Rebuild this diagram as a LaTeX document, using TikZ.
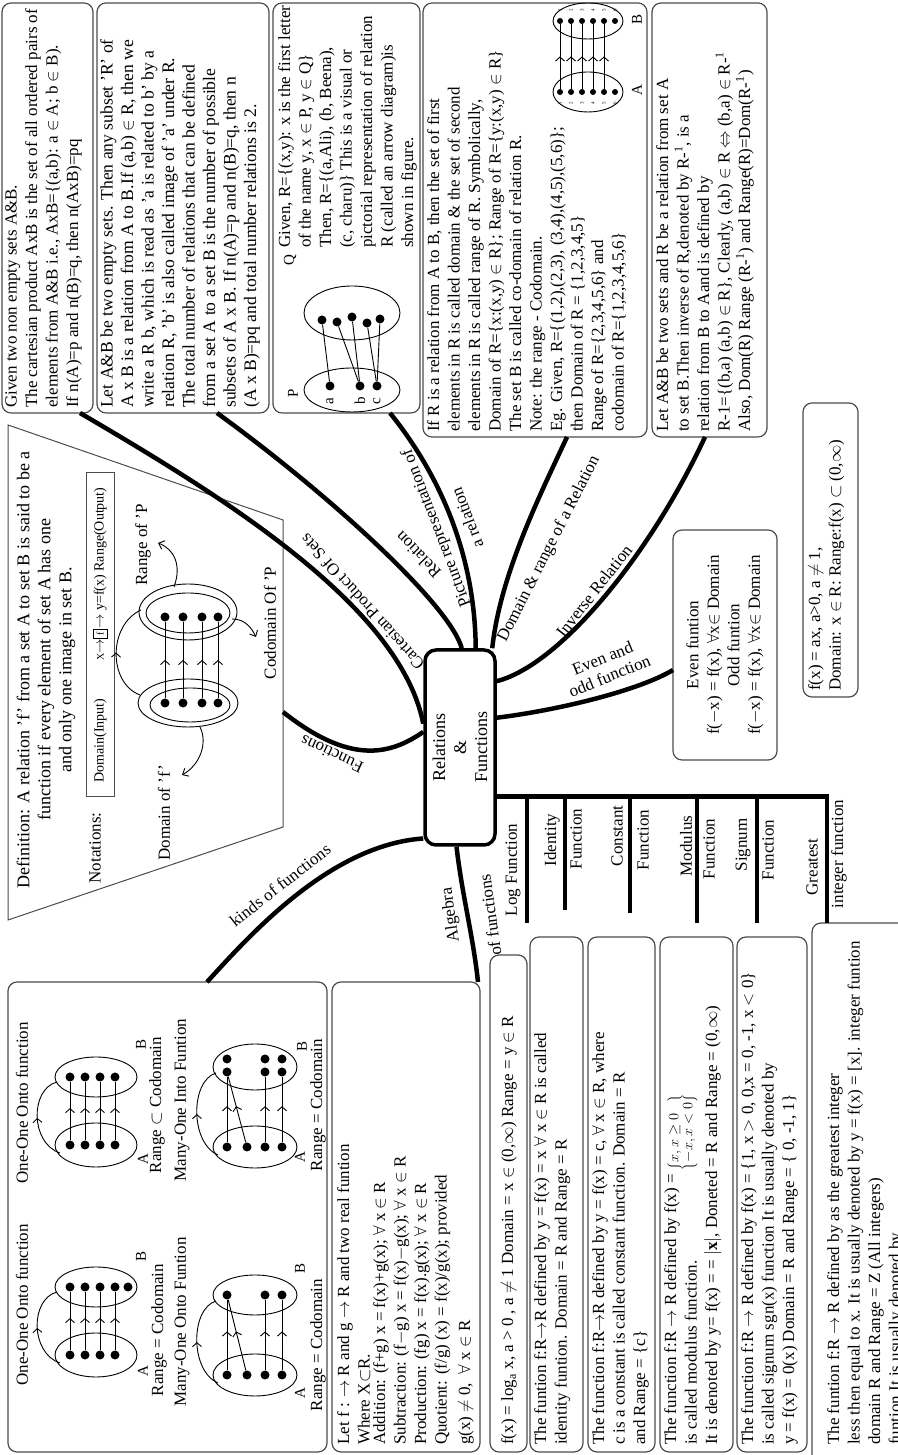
\documentclass[tikz,border=0pt]{standalone}
\usepackage{fontspec}
\setmainfont{Liberation Serif}
\usetikzlibrary{arrows.meta,decorations.markings}
\begin{document}
\begin{tikzpicture}[x=1pt,y=1pt,
  bx/.style={draw=black!70, line width=1.2pt, rounded corners=9pt, anchor=north west, inner sep=0pt, outer sep=0pt},
  txt/.style={font=\fontsize{17}{20.5}\selectfont, inner sep=0pt, align=left, anchor=north west},
  lbl/.style={font=\fontsize{17}{19}\selectfont, inner sep=1pt},
  sml/.style={font=\fontsize{15}{16}\selectfont, inner sep=0pt},
  tinyl/.style={font=\fontsize{5}{5}\selectfont, inner sep=0pt},
  br/.style={line width=4.5pt},
  dot/.style={circle, fill=black, inner sep=0pt, minimum size=#1},
  dot/.default=9pt,
  thinl/.style={line width=0.9pt},
  marr/.style={postaction={decorate}, decoration={markings, mark=at position #1 with {\arrow{Straight Barb[length=4pt,width=9pt]}}}},
  marr/.default=0.55,
  tip/.style={-{Straight Barb[length=5pt,width=9pt]}},
]
\begin{scope}[rotate=90, transform shape, y=-1pt]
\useasboundingbox (0,0) rectangle (1455,897);
\fill[white] (0,0) rectangle (1455,897);

% ---------- boxes
\node[bx, minimum width=410pt, minimum height=91pt]  (b1) at (1042,2) {};
\node[bx, minimum width=410pt, minimum height=172pt] (b2) at (1042,97) {};
\node[bx, minimum width=410pt, minimum height=147pt] (b3) at (1042,273) {};
\node[bx, minimum width=434pt, minimum height=224pt] (b4) at (1018,423) {};
\node[bx, minimum width=434pt, minimum height=115pt] (b5) at (1018,652) {};
\node[bx, minimum width=294pt, minimum height=55pt]  (b6) at (758,803) {};
\node[bx, minimum width=230pt, minimum height=104pt] (b7) at (695,673) {};
\node[bx, minimum width=470pt, minimum height=319pt] (b8) at (3,8) {};
\node[bx, minimum width=470pt, minimum height=148pt] (b9) at (3,332) {};
\node[bx, minimum width=497pt, minimum height=37pt]  (b10) at (3,490) {};
\node[bx, minimum width=515pt, minimum height=53pt]  (b11) at (3,530) {};
\node[bx, minimum width=515pt, minimum height=67pt]  (b12) at (3,588) {};
\node[bx, minimum width=515pt, minimum height=73pt]  (b13) at (3,660) {};
\node[bx, minimum width=515pt, minimum height=70pt]  (b14) at (3,737) {};
\node[bx, minimum width=552pt, minimum height=110pt] (b15) at (-20,812) {};

% ---------- texts of the boxes
\node[txt] (t1) at (1047,5) {Given two non empty sets A\&B.\\
The cartesian product AxB is the set of all ordered pairs of\\
elements from A\&B i.e., AxB=\{(a,b): a $\in$ A; b $\in$ B).\\
If n(A)=p and n(B)=q, then n(AxB)=pq};

\node[txt, font=\fontsize{17.6}{20.5}\selectfont] (t2) at (1047,100) {Let A\&B be two empty sets. Then any subset 'R' of\\
A x B is a relation from A to B.If (a,b) $\in$ R, then we\\
write a R b, which is read as 'a is related to b' by a\\
relation R, 'b' is also called image of 'a' under R.\\
The total number of relations that can be defined\\
from a set A to a set B is the number of possible\\
subsets of A x B. If n(A)=p and n(B)=q, then n\\
(A x B)=pq and total number relations is 2.};

\node[txt] (t3) at (1207,278) {Given, R=\{(x,y): x is the first letter\\
of the name y, x $\in$ P, y $\in$ Q\}\\
Then, R=\{(a,Ali), (b, Beena),\\
(c, charu)\} This is a visual or\\
pictorial representation of relation\\
R (called an arrow diagram)is\\
shown in figure.};

\node[txt] (t4) at (1023,427) {If R is a relation from A to B, then the set of first\\
elements in R is called domain \& the set of second\\
elements in R is called range of R. Symbolically,\\
Domain of R=\{x:(x,y) $\in$ R\}; Range of R=\{y:(x,y) $\in$ R\}\\
The set B is called co-domain of relation R.\\
Note: the range - Codomain.\\
Eg. Given, R=\{(1,2),(2,3), (3,4),(4,5),(5,6)\};\\
then Domain of R = \{1,2,3,4,5\}\\
Range of R=\{2,3,4,5,6\} and\\
codomain of R=\{1,2,3,4,5,6\}};

\node[txt] (t5) at (1023,656) {Let A\&B be two sets and R be a relation from set A\\
to set B.Then inverse of R,denoted by R-\textsuperscript{1}, is a\\
relation from B to Aand is defined by\\
R-1=\{(b,a) (a,b) $\in$ R\}, Clearly, (a,b) $\in$ R $\Leftrightarrow$ (b,a) $\in$ R-\textsuperscript{1}\\
Also, Dom(R) Range (R-\textsuperscript{1}) and Range(R)=Dom(R-\textsuperscript{1})};

\node[txt] (t6) at (764,808) {f(x) = ax, a>0, a $\neq$ 1,\\
Domain: x $\in$ R: Range:f(x) $\subset$ (0,$\infty$)};

\node[txt, align=center, anchor=center] (t7) at (810,725) {Even funtion\\
f($-$x) = f(x), $\forall$x$\in$ Domain\\
Odd funtion\\
f($-$x) = f(x), $\forall$x$\in$ Domain};

\node[txt] (t9) at (10,337) {Let f : $\rightarrow$ R and g $\rightarrow$ R and two real funtion\\
Where X$\subset$R.\\[-5pt]
Addition: (f+g) x = f(x)+g(x); $\forall$ x $\in$ R\\
Subtraction: (f$-$g) x = f(x)$-$g(x); $\forall$ x $\in$ R\\
Production: (fg) x = f(x).g(x); $\forall$ x $\in$ R\\
Quotient: (f/g) (x) = f(x)/g(x); provided\\[3pt]
g(x) $\neq$ 0, \ $\forall$ x $\in$ R};

\node[txt, anchor=west] (t10) at (10,509) {f(x) = log\textsubscript{a} x, a > 0 , a $\neq$ 1 Domain = x $\in$ (0,$\infty$) Range = y $\in$ R};

\node[txt] (t11) at (10,534) {The funtion f:R$\rightarrow$R defined by y = f(x) = x $\forall$ x $\in$ R is called\\
identity funtion. Domain = R and Range = R};

\node[txt] (t12) at (10,592) {The function f:R$\rightarrow$R defined by y = f(x) = c, $\forall$ x $\in$ R, where\\
c is a constant is called constant function. Domain = R\\
and Range = \{c\}};

\node[txt] (t13) at (10,664) {The function f:R $\rightarrow$ R defined by f(x) = \smash{\raisebox{-10pt}{\fontsize{14}{14}\selectfont$\left\{\begin{array}{@{}l@{}}x,x\geq 0\\ -x,x<0\end{array}\right\}$}}\\
is called modulus function.\\
It is denoted by y= f(x) = = $|\mathbf{x}|$, Doneted = R and Range = (0,$\infty$)};

\node[txt] (t14) at (10,741) {The function f:R $\rightarrow$ R defined by f(x) = \{1, x $>$ 0, 0,x = 0, -1, x $<$ 0\}\\
is called signum sgn(x) function It is usually denoted by\\
y = f(x) = 0(x) Domain = R and Range = \{ 0, -1, 1\}};

\node[txt] (t15) at (10,827) {The funtion f:R $\rightarrow$ R defined by as the greatest integer\\
less then equal to x. It is usually denoted by y = f(x) = [x]. integer funtion\\
domain R and Range = Z (All integers)\\
funtion It is usually denoted by};

% ---------- P / Q arrow diagram (box 3)
\draw[thinl] (1065,352) ellipse [x radius=22pt, y radius=48pt];
\draw[thinl] (1142,352) ellipse [x radius=27pt, y radius=48pt];
\node[sml] (pP) at (1062,293) {P};
\node[sml] (pQ) at (1195,290) {Q};
\node[dot] (pa) at (1069,330) {};
\node[dot] (pb) at (1069,360) {};
\node[dot] (pc) at (1069,377) {};
\node[sml] (la) at (1054,330) {a};
\node[sml] (lb) at (1054,360) {b};
\node[sml] (lc) at (1054,377) {c};
\node[dot] (q1) at (1135,322) {};
\node[dot] (q2) at (1133,337) {};
\node[dot] (q3) at (1138,352) {};
\node[dot] (q4) at (1132,367) {};
\node[dot] (q5) at (1136,380) {};
\draw[thinl] (pa) -- (q1);
\draw[thinl] (pb) -- (q2);
\draw[thinl] (pb) -- (q3);
\draw[thinl] (pc) -- (q4);
\draw[thinl] (pc) -- (q5);

% ---------- A / B diagram (box 4)
\draw[thinl] (1363,588) ellipse [x radius=20pt, y radius=35pt];
\draw[thinl] (1434,588) ellipse [x radius=18pt, y radius=35pt];
\foreach \i/\t in {1/560,2/571,3/582,4/593,5/604,6/615}{
  \node[dot=6pt] (ra\i) at (1363,\t) {};
  \node[dot=6pt] (rb\i) at (1434,\t) {};
  \node[tinyl] (rna\i) at (1352,\t) {\i};
  \node[tinyl] (rnb\i) at (1445,\t) {\i};
}
\foreach \i in {1,...,5}{\draw[thinl, marr=0.5] (ra\i) -- (rb\i);}
\node[sml] (rA) at (1365,637) {A};
\node[sml] (rB) at (1435,637) {B};

% ---------- definition of function (trapezoid)
\draw[draw=black!70, line width=1pt] (535,8) -- (1030,8) -- (935,283) -- (628,283) -- cycle;
\node[lbl, align=center, font=\fontsize{18}{21}\selectfont] (def) at (785,46) {Definition: A relation 'f' from a set A to set B is said to be a\\
function if every element of set A has one\\
and only one image in set B.};
\node[lbl] (nota) at (607,95) {Notations:};
\node[draw=black!70, line width=1pt, minimum width=324pt, minimum height=28pt, inner sep=0pt, font=\fontsize{14}{14}\selectfont] (nbox) at (820,100)
  {Domain(Input)\hspace{38pt}{\fontsize{10}{10}\selectfont X}$\to$\fbox{\fontsize{10}{10}\selectfont f}$\to$ y=f(x) Range(Output)};

\draw[thinl] (752,188) ellipse [x radius=24pt, y radius=50pt];
\draw[thinl] (750,190) ellipse [x radius=17pt, y radius=40pt];
\draw[thinl] (843,188) ellipse [x radius=28pt, y radius=49pt];
\draw[thinl] (842,188) ellipse [x radius=20pt, y radius=42pt];
\foreach \i/\t in {1/165,2/183,3/202,4/218}{
  \node[dot] (fa\i) at (752,\t) {};
  \node[dot] (fb\i) at (838,\t) {};
  \draw[thinl, marr=0.5] (fa\i) -- (fb\i);
}
\draw[thinl, marr=0.5] (760,140) .. controls (772,108) and (830,108) .. (845,141);
\node[lbl] (rngP) at (910,143) {Range of 'P};
\draw[thinl, tip] (868,174) .. controls (890,182) and (906,174) .. (912,158);
\node[lbl] (domf) at (642,164) {Domain of 'f'};
\draw[thinl, tip] (728,200) .. controls (712,208) and (690,200) .. (680,182);
\node[lbl] (codP) at (832,270) {Codomain Of 'P};
\draw[thinl, tip] (836,232) .. controls (836,246) and (826,252) .. (818,256);

% ---------- kinds of functions diagrams
\node[lbl] (k1t) at (150,22) {One-One Onto function};
\node[lbl] (k2t) at (352,22) {One-One Onto function};
% D1
\draw[thinl] (100,96) ellipse [x radius=22pt, y radius=41pt];
\draw[thinl] (168,96) ellipse [x radius=20pt, y radius=41pt];
\foreach \i/\t in {1/70,2/85,3/100,4/115}{\node[dot] (d1a\i) at (100,\t) {};}
\foreach \i/\t in {1/70,2/85,3/100,4/115,5/128}{\node[dot] (d1b\i) at (168,\t) {};}
\foreach \i in {1,...,4}{\draw[thinl, marr] (d1a\i) -- (d1b\i);}
\draw[thinl, marr=0.5] (92,60) .. controls (102,30) and (156,30) .. (163,57);
\node[sml] (d1A) at (84,143) {A};
\node[sml] (d1B) at (198,141) {B};
\node[lbl] (d1r) at (125,159) {Range = Codomain};
\node[lbl] (d1m) at (133,182) {Many-One Onto Funtion};
% D2
\draw[thinl] (310,96) ellipse [x radius=22pt, y radius=41pt];
\draw[thinl] (378,96) ellipse [x radius=20pt, y radius=41pt];
\foreach \i/\t in {1/70,2/85,3/100,4/115}{\node[dot] (d2a\i) at (310,\t) {}; \node[dot] (d2b\i) at (378,\t) {};}
\foreach \i in {1,...,4}{\draw[thinl, marr] (d2a\i) -- (d2b\i);}
\draw[thinl, marr=0.5] (302,60) .. controls (312,30) and (366,30) .. (373,57);
\node[sml] (d2A) at (296,143) {A};
\node[sml] (d2B) at (410,141) {B};
\node[lbl] (d2r) at (350,157) {Range $\subset$ Codomain};
\node[lbl] (d2m) at (355,182) {Many-One Into Funtion};
% D3
\draw[thinl] (80,255) ellipse [x radius=21pt, y radius=42pt];
\draw[thinl] (160,255) ellipse [x radius=20pt, y radius=42pt];
\foreach \i/\t in {1/227,2/247,3/265,4/282}{\node[dot] (d3a\i) at (80,\t) {};}
\foreach \i/\t in {1/227,2/265,3/282}{\node[dot] (d3b\i) at (160,\t) {};}
\draw[thinl, marr] (d3a1) -- (d3b1);
\draw[thinl, marr] (d3a2) -- (d3b1);
\draw[thinl, marr] (d3a3) -- (d3b2);
\draw[thinl, marr] (d3a4) -- (d3b3);
\draw[thinl, marr=0.5] (72,218) .. controls (84,190) and (146,190) .. (154,216);
\node[sml] (d3A) at (62,300) {A};
\node[sml] (d3B) at (186,300) {B};
\node[lbl] (d3r) at (110,318) {Range = Codomain};
% D4
\draw[thinl] (308,255) ellipse [x radius=21pt, y radius=42pt];
\draw[thinl] (388,255) ellipse [x radius=23pt, y radius=42pt];
\foreach \i/\t in {1/227,2/247,3/265,4/282}{\node[dot] (d4a\i) at (308,\t) {};}
\foreach \i/\t in {1/227,2/265,3/282}{\node[dot] (d4b\i) at (383,\t) {}; \node[dot] (d4c\i) at (396,\t) {};}
\draw[thinl, marr] (d4a1) -- (d4b1);
\draw[thinl, marr] (d4a2) -- (d4b1);
\draw[thinl, marr] (d4a3) -- (d4b2);
\draw[thinl, marr] (d4a4) -- (d4b3);
\draw[thinl, marr=0.5] (300,218) .. controls (312,190) and (374,190) .. (382,216);
\node[sml] (d4A) at (298,300) {A};
\node[sml] (d4B) at (408,302) {B};
\node[lbl] (d4r) at (350,318) {Range = Codomain};

% ---------- central node
\node[draw, line width=3.5pt, rounded corners=11pt, minimum width=195pt, minimum height=70pt, align=center, font=\fontsize{18}{21}\selectfont, inner sep=0pt] (C) at (707.5,460) {Relations\\\&\\Functions};

% ---------- branch end points
\coordinate (cartE) at (1042,80);
\coordinate (relE) at (1042,217);
\coordinate (picE) at (1042,390);
\coordinate (domE) at (1018,567);
\coordinate (invE) at (1018,705);
\coordinate (evenE) at (785,673);
\coordinate (funE) at (743,283);
\coordinate (kindE) at (473,207);
\coordinate (algE) at (473,478);
\coordinate (grE) at (532,827);
\coordinate (busLog) at (660,527);   \coordinate (logE) at (532,527);
\coordinate (busId) at (660,565);    \coordinate (idE) at (545,565);
\coordinate (busCon) at (660,630);   \coordinate (conE) at (542,630);
\coordinate (busMod) at (660,697);   \coordinate (modE) at (532,697);
\coordinate (busSig) at (660,757);   \coordinate (sigE) at (532,757);

% ---------- branches
\draw[br] (C.57) .. controls (850,400) and (960,220) .. (cartE);
\draw[br] (C.-1.2) .. controls (850,450) and (960,330) .. (relE);
\draw[br] (C.-9.9) .. controls (900,475) and (980,440) .. (picE);
\draw[br] (C.-18.5) .. controls (880,500) and (960,540) .. (domE);
\draw[br] (C.-29.2) .. controls (790,560) and (900,650) .. (invE);
\draw[br] (C.-51.8) .. controls (745,560) and (765,640) .. (evenE);
\draw[br] (C.67.5) .. controls (700,390) and (690,350) .. (funE);
\draw[br] (C.158.9) .. controls (610,330) and (520,250) .. (kindE);
\draw[br] (C.178.8) .. controls (560,462) and (520,473) .. (algE);
\draw[br] (C.-143.6) |- (grE);
\draw[br] (busLog) -- (logE);
\draw[br] (busId) -- (idE);
\draw[br] (busCon) -- (conE);
\draw[br] (busMod) -- (modE);
\draw[br] (busSig) -- (sigE);

% ---------- branch labels
\node[lbl, rotate=42] (lCart) at (853,362) {Cartesian Product Of Sets};
\node[lbl, rotate=44] (lRel) at (900,418) {Relation};
\node[lbl, rotate=21] (lPic1) at (927,437) {Picture representation of};
\node[lbl, rotate=21] (lPic2) at (937,467) {a relation};
\node[lbl, rotate=-27] (lDom) at (906,549) {Domain \& range of a Relation};
\node[lbl, rotate=-38] (lInv) at (864,594) {Inverse Relation};
\node[lbl, rotate=-68, align=center] (lEven) at (788,606) {Even and\\odd function};
\node[lbl, rotate=65] (lFun) at (701,332) {Functions};
\node[lbl, rotate=-52] (lKind) at (570,280) {kinds of functions};
\node[lbl, rotate=8] (lAlg1) at (540,451) {Algebra};
\node[lbl, rotate=8] (lAlg2) at (540,490) {of functions};
\node[lbl] (lLog) at (585,513) {Log Function};
\node[lbl] (lId1) at (615,552) {Identity};
\node[lbl] (lId2) at (616,576) {Function};
\node[lbl] (lCo1) at (619,617) {Constant};
\node[lbl] (lCo2) at (615,643) {Function};
\node[lbl] (lMo1) at (609,686) {Modulus};
\node[lbl] (lMo2) at (606,709) {Function};
\node[lbl] (lSi1) at (610,743) {Signum};
\node[lbl] (lSi2) at (605,768) {Function};
\node[lbl] (lGr1) at (588,812) {Greatest};
\node[lbl] (lGr2) at (601,839) {integer function};
\end{scope}
\end{tikzpicture}
\end{document}
